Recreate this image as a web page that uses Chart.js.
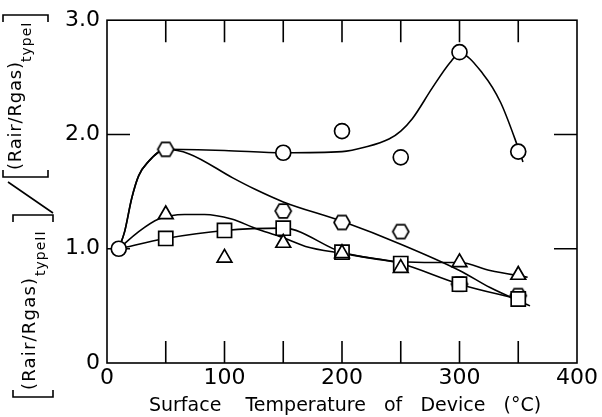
<!DOCTYPE html>
<html>
<head>
<meta charset="utf-8">
<script src="https://cdn.jsdelivr.net/npm/chart.js@4.4.0/dist/chart.umd.min.js"></script>
<style>
  html, body { margin: 0; padding: 0; background: #fff; }
</style>
</head>
<body>
<canvas id="chart" width="602" height="417"></canvas>
<script>
// measured points (temperature in degC, resistance ratio)
const tempCircle = [10, 150, 200, 250, 300, 350];
const ratioCircle = [1.0, 1.84, 2.03, 1.80, 2.72, 1.85];
const tempHex = [50, 150, 200, 250, 300, 350];
const ratioHex = [1.87, 1.33, 1.23, 1.15, 0.69, 0.59];
const tempTri = [50, 100, 150, 200, 250, 300, 350];
const ratioTri = [1.30, 0.92, 1.05, 0.96, 0.83, 0.88, 0.77];
const tempSq = [50, 100, 150, 200, 250, 300, 350];
const ratioSq = [1.09, 1.16, 1.18, 0.97, 0.87, 0.69, 0.56];

// hand drawn guide curves
const curveCircleX = [10, 15, 21, 27, 35, 50, 100, 150, 200, 220, 240, 250, 260, 277, 292, 300, 320, 335, 349, 354];
const curveCircleY = [1.0, 1.15, 1.44, 1.64, 1.76, 1.87, 1.86, 1.84, 1.85, 1.89, 1.96, 2.03, 2.14, 2.41, 2.63, 2.71, 2.53, 2.28, 1.91, 1.76];
const curveHexX = [10, 15, 21, 27, 35, 50, 70, 107, 126, 150, 200, 250, 300, 326, 360];
const curveHexY = [1.0, 1.15, 1.44, 1.64, 1.76, 1.87, 1.83, 1.62, 1.52, 1.41, 1.24, 1.04, 0.81, 0.66, 0.50];
const curveTriX = [10, 27, 44, 66, 83, 106, 126, 149, 169, 200, 244, 270, 300, 326, 358];
const curveTriY = [1.0, 1.15, 1.26, 1.30, 1.30, 1.26, 1.18, 1.10, 1.02, 0.96, 0.89, 0.88, 0.88, 0.81, 0.75];
const curveSqX = [10, 50, 100, 150, 200, 250, 300, 350];
const curveSqY = [1.0, 1.09, 1.16, 1.18, 0.97, 0.87, 0.69, 0.56];

// tick marks inside the frame
const xMarks = [50, 100, 150, 200, 250, 300, 350];
const yMarks = [1, 2];

const FONT = '"DejaVu Sans", sans-serif';

const pts = (xs, ys) => xs.map((x, i) => ({ x: x, y: ys[i] }));

function hexMarker(r) {
  const c = document.createElement('canvas');
  const s = Math.ceil(2 * r + 4);
  c.width = s; c.height = s;
  const g = c.getContext('2d');
  g.beginPath();
  for (let i = 0; i < 6; i++) {
    const a = Math.PI / 3 * i;
    const px = s / 2 + r * Math.cos(a), py = s / 2 + r * Math.sin(a);
    if (i) g.lineTo(px, py); else g.moveTo(px, py);
  }
  g.closePath();
  g.fillStyle = '#fff'; g.fill();
  g.lineWidth = 1.7; g.strokeStyle = '#000'; g.stroke();
  return c;
}

function curve(xs, ys) {
  return {
    data: pts(xs, ys), showLine: true, pointRadius: 0,
    borderColor: '#000', borderWidth: 1.6,
    cubicInterpolationMode: 'monotone', order: 2
  };
}

function marks(xs, ys, style, r) {
  return {
    data: pts(xs, ys), showLine: false, pointStyle: style, pointRadius: r,
    pointBackgroundColor: '#fff', pointBorderColor: '#000', pointBorderWidth: 1.7,
    order: 1
  };
}

// box + inward ticks
const frame = {
  id: 'frame',
  beforeDatasetsDraw(chart) {
    const { ctx, chartArea: a, scales: { x, y } } = chart;
    ctx.save();
    ctx.strokeStyle = '#000';
    ctx.lineWidth = 1.6;
    ctx.strokeRect(a.left, a.top, a.right - a.left, a.bottom - a.top);
    ctx.beginPath();
    xMarks.forEach(v => {
      const px = x.getPixelForValue(v);
      ctx.moveTo(px, a.bottom); ctx.lineTo(px, a.bottom - 22);
      ctx.moveTo(px, a.top); ctx.lineTo(px, a.top + 22);
    });
    yMarks.forEach(v => {
      const py = y.getPixelForValue(v);
      ctx.moveTo(a.left, py); ctx.lineTo(a.left + 23, py);
      ctx.moveTo(a.right, py); ctx.lineTo(a.right - 23, py);
    });
    ctx.stroke();
    ctx.restore();
  }
};

// rotated ratio label with subscripts and brackets
const yTitle = {
  id: 'yTitle',
  afterDraw(chart) {
    const ctx = chart.ctx;
    const put = (text, x, y, size, gap) => {
      ctx.save();
      ctx.translate(x, y);
      ctx.rotate(-Math.PI / 2);
      ctx.font = size + 'px ' + FONT;
      ctx.letterSpacing = gap + 'px';
      ctx.fillStyle = '#000';
      ctx.textBaseline = 'alphabetic';
      ctx.fillText(text, 0, 0);
      ctx.restore();
    };
    const bracket = (y, x0, x1, dir) => {
      ctx.moveTo(x0, y + dir * 7); ctx.lineTo(x0, y); ctx.lineTo(x1, y); ctx.lineTo(x1, y + dir * 7);
    };
    // numerator
    put('(Rair/Rgas)', 35, 390, 18, 1.2);
    put('typeII', 45, 276, 14, 1);
    // denominator
    put('(Rair/Rgas)', 21, 170, 18, 0.8);
    put('typeI', 31, 62, 14, 1);
    ctx.save();
    ctx.strokeStyle = '#000';
    ctx.lineWidth = 1.6;
    ctx.beginPath();
    bracket(397, 13, 53, -1);
    bracket(215, 13, 53, 1);
    bracket(177, 3, 48, -1);
    bracket(15, 3, 48, 1);
    ctx.moveTo(53, 213); ctx.lineTo(8, 182);
    ctx.stroke();
    ctx.restore();
  }
};

new Chart(document.getElementById('chart'), {
  type: 'scatter',
  data: {
    datasets: [
      curve(curveCircleX, curveCircleY),
      curve(curveHexX, curveHexY),
      curve(curveTriX, curveTriY),
      curve(curveSqX, curveSqY),
      marks(tempCircle, ratioCircle, 'circle', 7.5),
      marks(tempTri, ratioTri, 'triangle', 8.5),
      marks(tempSq, ratioSq, 'rect', 10),
      marks(tempHex, ratioHex, hexMarker(8), 8)
    ]
  },
  options: {
    responsive: false,
    animation: false,
    layout: { padding: { top: 17, right: 25, left: 0, bottom: 0 } },
    plugins: { legend: { display: false }, tooltip: { enabled: false } },
    scales: {
      x: {
        type: 'linear', min: 0, max: 400,
        ticks: { stepSize: 100, color: '#000', font: { family: FONT, size: 22 }, padding: 2, maxRotation: 0 },
        grid: { display: false, drawTicks: false },
        border: { display: false },
        title: {
          display: true, text: ' Surface    Temperature   of   Device   (°C)',
          color: '#000', font: { family: FONT, size: 19 }, padding: { top: 0, bottom: 0 }
        },
        afterFit: s => { s.height = 54; }
      },
      y: {
        type: 'linear', min: 0, max: 3,
        ticks: {
          stepSize: 1, color: '#000', font: { family: FONT, size: 22 }, padding: 7,
          callback: v => v === 0 ? '0' : v.toFixed(1)
        },
        grid: { display: false, drawTicks: false },
        border: { display: false },
        afterFit: s => { s.width = 107; }
      }
    }
  },
  plugins: [frame, yTitle]
});
</script>
</body>
</html>
